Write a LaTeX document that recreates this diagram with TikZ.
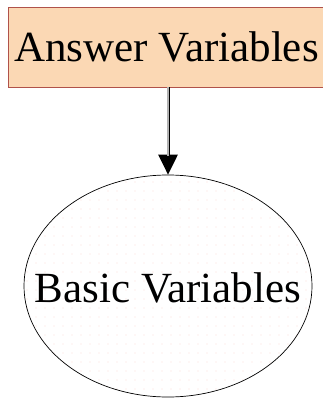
\documentclass[tikz,border=0pt]{standalone}
\usepackage{fontspec}
\setmainfont{Liberation Serif}
\usetikzlibrary{shapes.geometric,arrows.meta,patterns.meta}
\definecolor{boxfill}{HTML}{FBD8B4}
\definecolor{boxline}{HTML}{B0524A}
\definecolor{dotcol}{HTML}{F0A090}
\tikzset{
  answerbox/.style={draw=boxline, line width=0.8pt, fill=boxfill, rectangle,
    minimum width=317pt, minimum height=80pt, inner sep=0pt,
    font=\fontsize{43}{50}\selectfont},
  basicell/.style={draw=black, line width=0.7pt, ellipse,
    pattern={Dots[distance=9pt, radius=0.45pt]}, pattern color=dotcol,
    minimum width=288pt, minimum height=222pt, inner sep=0pt,
    font=\fontsize{43}{50}\selectfont},
  connout/.style={line width=3pt, black, -{Triangle[length=20pt,width=19pt]}},
  connin/.style={line width=1.3pt, gray!60, shorten >=19pt}
}
\begin{document}
\begin{tikzpicture}[x=1pt,y=1pt]
\useasboundingbox (0,0) rectangle (323,-398);
\begin{scope}
\clip (0,0) rectangle (323,-398);
\node[answerbox] (ans) at (166.5,-47) {\raisebox{-2pt}{Answer Variables}};
\node[basicell] (bas) at (168,-286) {\smash{\makebox[0pt]{\raisebox{-16pt}{Basic Variables}}}};
\draw[connout] (ans.south -| bas.north) -- (bas.north);
\draw[connin] (ans.south -| bas.north) -- (bas.north);
\end{scope}
\end{tikzpicture}
\end{document}
